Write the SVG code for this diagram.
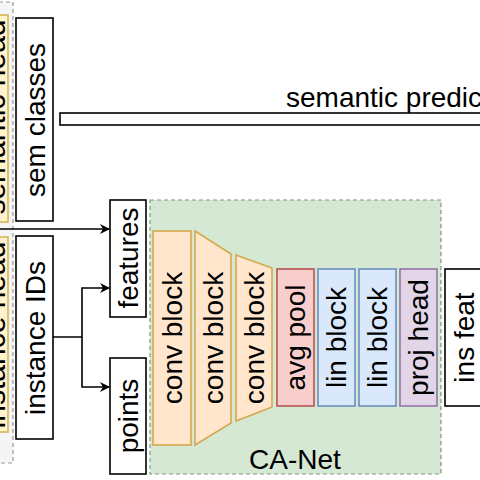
<svg xmlns="http://www.w3.org/2000/svg" width="480" height="480" viewBox="0 0 480 480">
<defs>
<style>
text{font-family:"Liberation Sans",Arial,sans-serif;font-size:28px;fill:#000;}
.v{text-anchor:middle;}
.big{font-size:30px;}
.box{fill:#fff;stroke:#000;stroke-width:1.6;}
.conv{fill:#ffe6cc;stroke:#d6a84e;stroke-width:1.6;}
.pool{fill:#f8cecc;stroke:#b85450;stroke-width:1.6;}
.lin{fill:#dae8fc;stroke:#6c8ebf;stroke-width:1.6;}
.proj{fill:#e1d5e7;stroke:#9673a6;stroke-width:1.6;}
.head{fill:#fff2cc;stroke:#d6b656;stroke-width:1.6;}
.edge{fill:none;stroke:#000;stroke-width:1.6;}
</style>
<marker id="arr" viewBox="0 0 10 10" refX="9" refY="5" markerWidth="10" markerHeight="10" markerUnits="userSpaceOnUse" orient="auto">
<path d="M0,0 L10,5 L0,10 L3,5 Z" fill="#000"/>
</marker>
</defs>
<rect width="480" height="480" fill="#fff"/>

<g id="heads">
<rect x="-50" y="2" width="63" height="461" fill="#f5f5f5" stroke="#999" stroke-width="1.2" stroke-dasharray="4 3"/>
<g id="semantic-head">
<rect class="head" x="-40" y="15" width="48" height="207"/>
<text class="v big" transform="translate(-5.5,117) rotate(-90)" dy="0.35em">semantic head</text>
</g>
<g id="instance-head">
<rect class="head" x="-40" y="237" width="48" height="195"/>
<text class="v big" transform="translate(-5.5,335) rotate(-90)" dy="0.35em">instance head</text>
</g>
</g>

<g id="sem-classes">
<rect class="box" x="16" y="18" width="37" height="203"/>
<text class="v" transform="translate(35,120) rotate(-90)" dy="0.35em">sem classes</text>
</g>
<g id="instance-ids">
<rect class="box" x="16" y="236" width="37" height="203"/>
<text class="v" transform="translate(35,338) rotate(-90)" dy="0.35em">instance IDs</text>
</g>

<g id="semantic-prediction">
<rect class="box" x="60" y="113" width="440" height="12"/>
<text x="286" y="107">semantic prediction</text>
</g>

<g id="features">
<rect class="box" x="110" y="200" width="36" height="117"/>
<text class="v" transform="translate(128,258) rotate(-90)" dy="0.35em">features</text>
</g>
<g id="points">
<rect class="box" x="110" y="358" width="36" height="116"/>
<text class="v" transform="translate(128,416) rotate(-90)" dy="0.35em">points</text>
</g>

<g id="ca-net">
<rect x="150" y="200" width="291" height="274" fill="#d5e8d4" stroke="#7f9a78" stroke-width="1.2" stroke-dasharray="4 3"/>
<text class="v" x="295" y="469">CA-Net</text>
</g>

<g id="conv-block-1">
<rect class="conv" x="153" y="231" width="38" height="214"/>
<text class="v" transform="translate(172,338) rotate(-90)" dy="0.35em">conv block</text>
</g>
<g id="conv-block-2">
<path class="conv" d="M195,231 L231,254 L231,423 L195,445 Z"/>
<text class="v" transform="translate(213,338) rotate(-90)" dy="0.35em">conv block</text>
</g>
<g id="conv-block-3">
<path class="conv" d="M236,255 L272,268 L272,407 L236,421 Z"/>
<text class="v" transform="translate(254,338) rotate(-90)" dy="0.35em">conv block</text>
</g>
<g id="avg-pool">
<rect class="pool" x="277" y="269" width="37" height="137"/>
<text class="v" transform="translate(295.5,337.5) rotate(-90)" dy="0.35em">avg pool</text>
</g>
<g id="lin-block-1">
<rect class="lin" x="318" y="269" width="37" height="137"/>
<text class="v" transform="translate(336.5,337.5) rotate(-90)" dy="0.35em">lin block</text>
</g>
<g id="lin-block-2">
<rect class="lin" x="359" y="269" width="37" height="137"/>
<text class="v" transform="translate(377.5,337.5) rotate(-90)" dy="0.35em">lin block</text>
</g>
<g id="proj-head">
<rect class="proj" x="400" y="269" width="37" height="137"/>
<text class="v" transform="translate(418.5,337.5) rotate(-90)" dy="0.35em">proj head</text>
</g>
<g id="ins-feat">
<rect class="box" x="445" y="269" width="40" height="137"/>
<text class="v" transform="translate(464,337.5) rotate(-90)" dy="0.35em">ins feat</text>
</g>

<g id="connectors">
<path class="edge" d="M0,229 L109,229" marker-end="url(#arr)"/>
<path class="edge" d="M53,337 L82,337 L82,288 L109,288" marker-end="url(#arr)"/>
<path class="edge" d="M82,337 L82,387 L109,387" marker-end="url(#arr)"/>
</g>
</svg>
